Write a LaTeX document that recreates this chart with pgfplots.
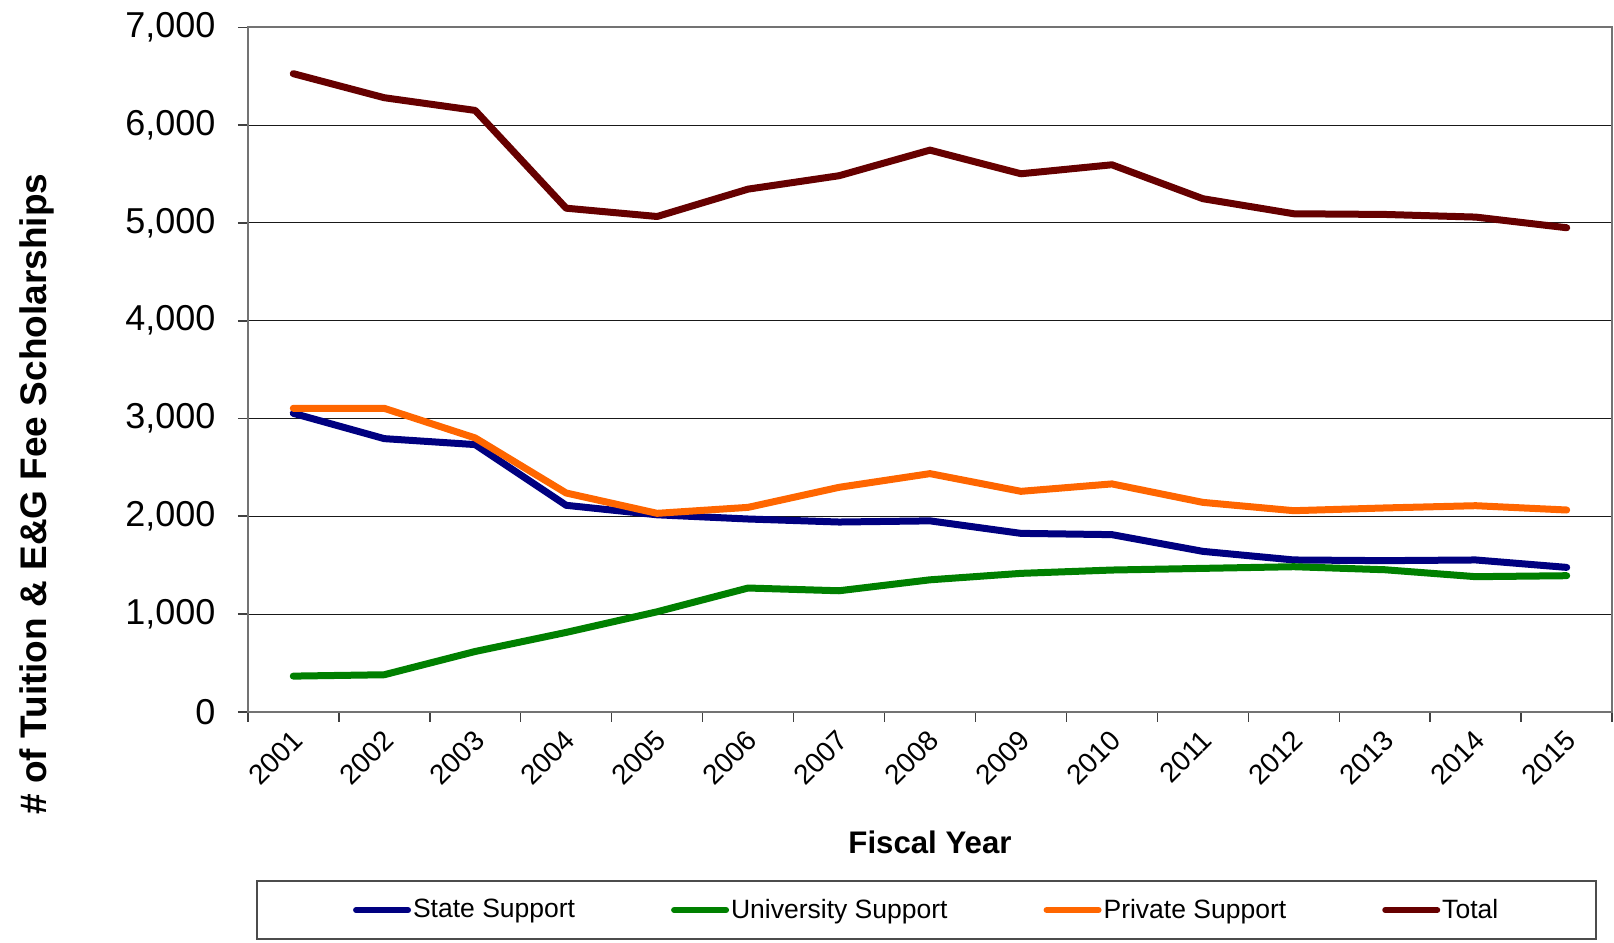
\documentclass[border=0pt]{standalone}
\usepackage{pgfplots}
\pgfplotsset{compat=1.18}
\usepackage{fontspec}
\setmainfont{Liberation Sans}
\definecolor{cState}{HTML}{000080}
\definecolor{cUniv}{HTML}{008000}
\definecolor{cPriv}{HTML}{FF6600}
\definecolor{cTotal}{HTML}{660000}
\begin{document}
\begin{tikzpicture}
\begin{axis}[
  scale only axis,
  width=682.2pt, height=342.2pt,
  xmin=0.5, xmax=15.5,
  ymin=0, ymax=7000,
  ytick={0,1000,...,7000},
  xtick={1,...,15},
  xticklabels={2001,2002,2003,2004,2005,2006,2007,2008,2009,2010,2011,2012,2013,2014,2015},
  minor xtick={0.5,1.5,...,15.5},
  major x tick style={draw=none},
  minor tick length=5pt,
  major tick length=5pt,
  tick align=outside,
  tick pos=left,
  tick style={black!75, line width=0.8pt},
  ymajorgrids,
  major grid style={black!90, line width=0.5pt},
  axis line style={draw=black!55, line width=1pt},
  /pgf/number format/assume math mode=true,
  /pgf/number format/1000 sep={,},
  scaled y ticks=false,
  yticklabel style={font=\fontsize{18}{20}\selectfont, anchor=east, inner sep=0pt, xshift=-11pt},
  xticklabel style={font=\fontsize{14}{16}\selectfont, xshift=-1.5pt, yshift=-3pt, rotate=45, anchor=north east, inner sep=0pt},
  xlabel={Fiscal Year},
  xlabel style={font=\fontsize{15.6}{18}\bfseries, at={(rel axis cs:0.5,-0.1905)}, anchor=center},
  ylabel={\# of Tuition \& E\&G Fee Scholarships},
  ylabel style={font=\fontsize{18.5}{20}\bfseries, at={(rel axis cs:-0.1545,0.318)}, anchor=center, rotate=0},
  legend columns=4,
  legend image code/.code={\draw[#1, line width=3pt, line cap=round] (0pt,0pt) -- (26pt,0pt);},
  legend style={
    at={(rel axis cs:0.0062,-0.246)}, anchor=north west,
    draw=black!70, line width=0.8pt,
    inner xsep=48pt, inner ysep=8pt,
    font=\fontsize{13.25}{15}\selectfont,
    nodes={inner sep=1pt},
    /tikz/every even column/.append style={column sep=47pt},
  },
  every axis plot/.append style={line width=3.5pt, line cap=round, line join=round},
]
\addplot[cState] coordinates {(1,3053)(2,2794)(3,2733)(4,2112)(5,2015)(6,1972)(7,1941)(8,1953)(9,1825)(10,1812)(11,1641)(12,1553)(13,1546)(14,1553)(15,1477)};
\addlegendentry{State Support}
\addplot[cUniv] coordinates {(1,365)(2,379)(3,617)(4,812)(5,1023)(6,1266)(7,1238)(8,1350)(9,1416)(10,1450)(11,1467)(12,1484)(13,1453)(14,1382)(15,1392)};
\addlegendentry{University Support}
\addplot[cPriv] coordinates {(1,3104)(2,3104)(3,2801)(4,2238)(5,2030)(6,2091)(7,2296)(8,2436)(9,2255)(10,2331)(11,2142)(12,2057)(13,2085)(14,2108)(15,2064)};
\addlegendentry{Private Support}
\addplot[cTotal] coordinates {(1,6527)(2,6281)(3,6151)(4,5151)(5,5066)(6,5346)(7,5483)(8,5745)(9,5503)(10,5595)(11,5248)(12,5094)(13,5087)(14,5060)(15,4951)};
\addlegendentry{Total}
\end{axis}
\pgfresetboundingbox
\path ([shift={(-123.9pt,-115.6pt)}]current axis.south west) rectangle ([shift={(683.1pt,355.9pt)}]current axis.south west);
\end{tikzpicture}
\end{document}
